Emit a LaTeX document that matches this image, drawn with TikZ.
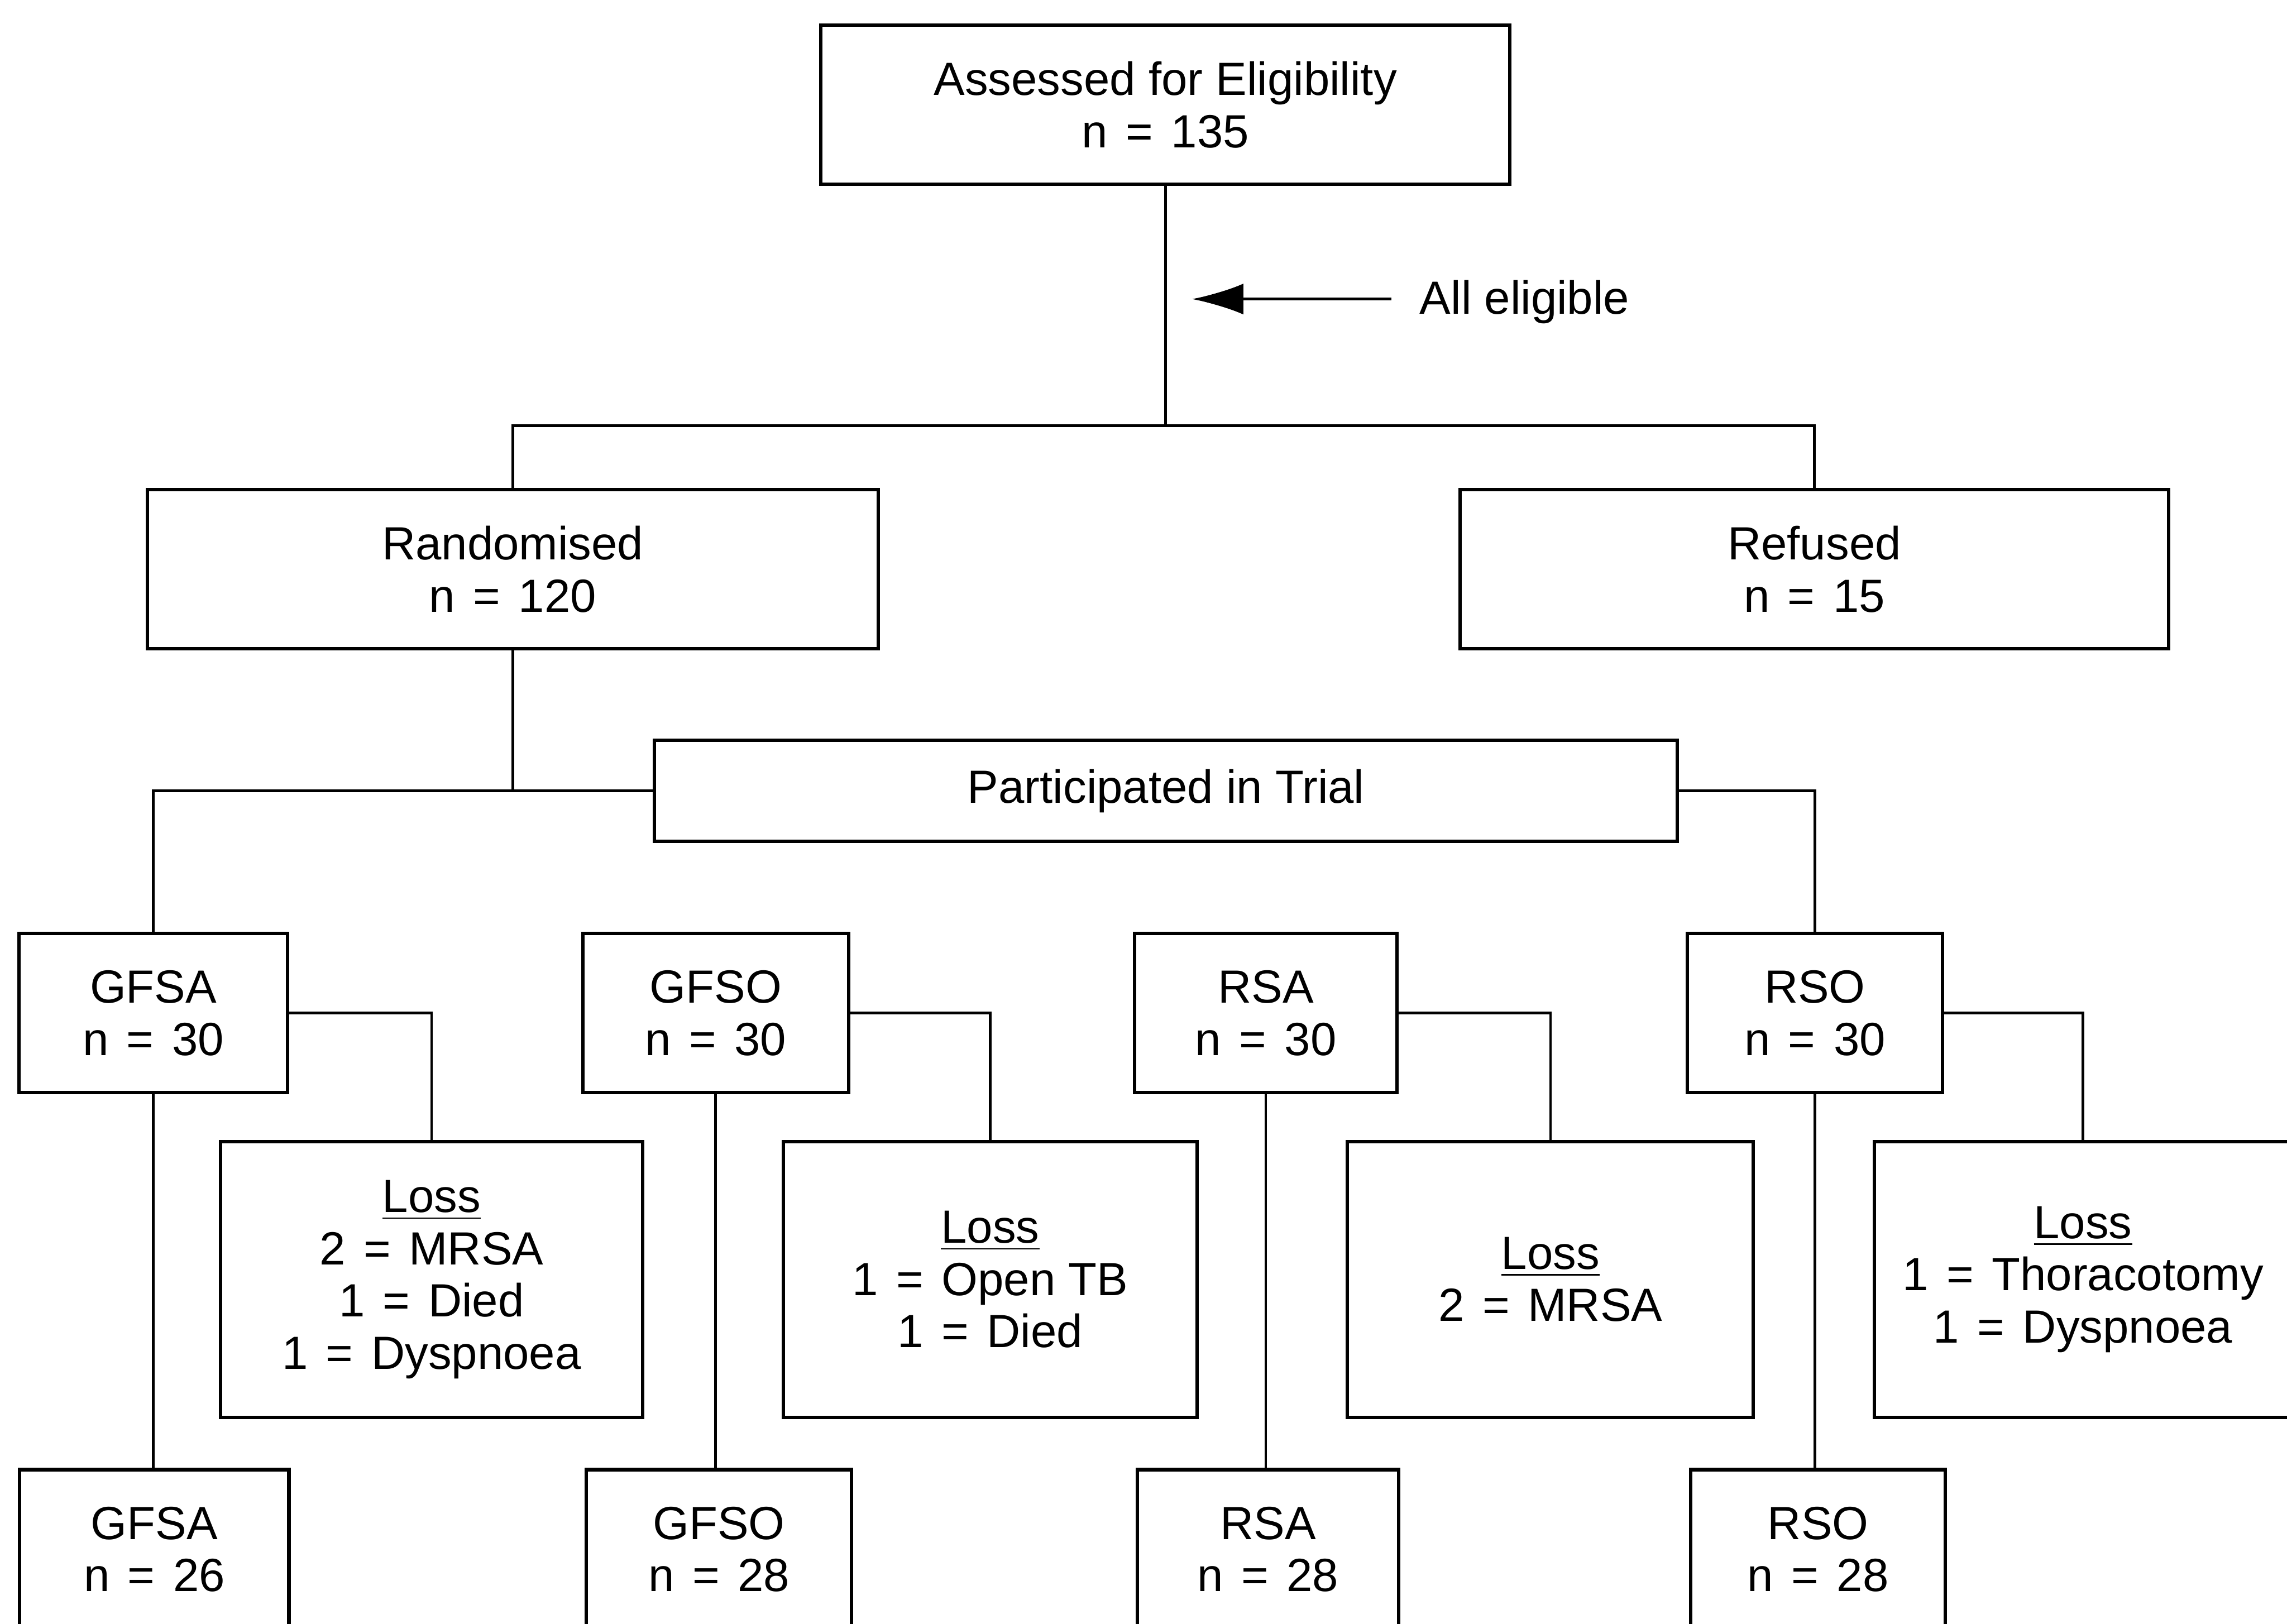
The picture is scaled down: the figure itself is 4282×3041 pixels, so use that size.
\documentclass[tikz,border=0pt]{standalone}
\usepackage{fontspec}
\setmainfont{Liberation Sans}
\usetikzlibrary{arrows.meta,positioning,calc}

\newcommand{\eqsign}{\hspace{0.39em}=\hspace{0.39em}}

\begin{document}
\begin{tikzpicture}[
  x=0.05mm, y=-0.05mm,
  fbox/.style={draw=black,line width=0.9pt,align=center,inner sep=0pt,
               font=\fontsize{12.4}{13.9}\selectfont,minimum height=14.9mm},
  lbox/.style={fbox,minimum height=25.8mm},
  link/.style={draw=black,line width=0.7pt},
  sig2/.style={-{Latex[length=4.8mm,width=2.9mm]},draw=black,line width=0.7pt}]

\useasboundingbox (0,0) rectangle (4282,3041);
\clip (0,0) rectangle (4282,3041);

% row 1 -- eligibility
\node[fbox,minimum width=64.5mm] (assess) at (2182,196) {Assessed for Eligibility\\n\eqsign 135};
\node[anchor=west,inner sep=0pt,font=\fontsize{12.4}{13.9}\selectfont] (elig) at (2657,566) {All eligible};
\coordinate (fork) at (2182,797);
\coordinate (tip) at (2232,560);

% row 2 -- randomised / refused
\node[fbox,minimum width=68.4mm] (rand) at (960,1066) {Randomised\\n\eqsign 120};
\node[fbox,minimum width=66.35mm] (refused) at (3397,1066) {Refused\\n\eqsign 15};
\node[fbox,minimum width=95.75mm,minimum height=9.45mm] (part) at (2183,1481) {Participated in Trial};

% row 3 -- groups
\node[fbox,minimum width=25.15mm] (gfsa) at (287,1897) {GFSA\\n\eqsign 30};
\node[fbox,minimum width=24.85mm] (gfso) at (1340,1897) {GFSO\\n\eqsign 30};
\node[fbox,minimum width=24.55mm] (rsa) at (2370,1897) {RSA\\n\eqsign 30};
\node[fbox,minimum width=23.85mm] (rso) at (3398,1897) {RSO\\n\eqsign 30};

% row 4 -- losses
\node[lbox,minimum width=39.55mm] (lossA) at (808,2396) {\underline{Loss}\\2\eqsign MRSA\\1\eqsign Died\\1\eqsign Dyspnoea};
\node[lbox,minimum width=38.75mm] (lossB) at (1854,2396) {\underline{Loss}\\1\eqsign Open TB\\1\eqsign Died};
\node[lbox,minimum width=38mm] (lossC) at (2903,2396) {\underline{Loss}\\2\eqsign MRSA};
\node[lbox,minimum width=39.1mm] (lossD) at (3900,2396) {\underline{Loss}\\1\eqsign Thoracotomy\\1\eqsign Dyspnoea};

% row 5 -- completed
\node[fbox,minimum width=25.2mm] (gfsa2) at (289,2901) {GFSA\\n\eqsign 26};
\node[fbox,minimum width=24.85mm] (gfso2) at (1346,2901) {GFSO\\n\eqsign 28};
\node[fbox,minimum width=24.45mm] (rsa2) at (2374,2901) {RSA\\n\eqsign 28};
\node[fbox,minimum width=23.85mm] (rso2) at (3404,2901) {RSO\\n\eqsign 28};

\draw[link] (assess.south) -- (fork);
\draw[link] (rand.north) |- (fork) -| (refused.north);
\draw[sig2] (elig.west |- tip) ++(-2.6mm,0) -- (tip);
\draw[link] (rand.south) -- (rand.south |- part.west);
\draw[link] (part.west) -| (gfsa.north);
\draw[link] (part.east) -| (rso.north);
\draw[link] (gfsa.east) -| (lossA.north);
\draw[link] (gfso.east) -| (lossB.north);
\draw[link] (rsa.east) -| (lossC.north);
\draw[link] (rso.east) -| (lossD.north);
\draw[link] (gfsa.south) -- (gfsa.south |- gfsa2.north);
\draw[link] (gfso.south) -- (gfso.south |- gfso2.north);
\draw[link] (rsa.south) -- (rsa.south |- rsa2.north);
\draw[link] (rso.south) -- (rso.south |- rso2.north);

\end{tikzpicture}
\end{document}
